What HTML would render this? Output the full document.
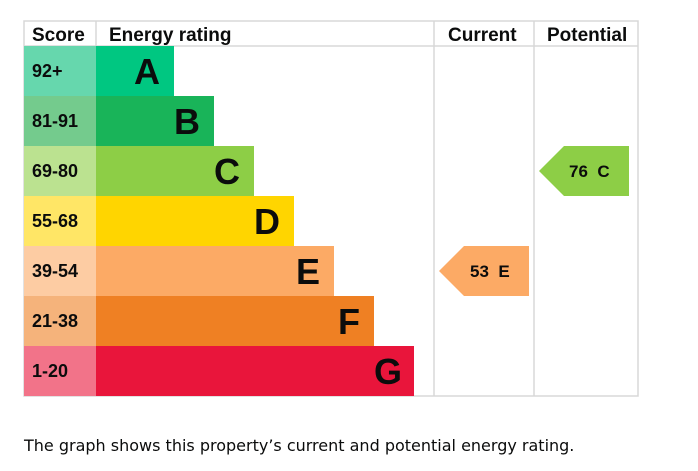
<!DOCTYPE html>
<html><head><meta charset="utf-8"><style>
body{margin:0;background:#fff;width:698px;height:471px;overflow:hidden}
svg{position:absolute;left:0;top:0}
text{font-family:"Liberation Sans",Arial,sans-serif;font-weight:bold;fill:#0b0c0c}
.cap{position:absolute;left:24px;top:436px;font-family:"DejaVu Sans","Liberation Sans",sans-serif;font-size:16px;color:#0b0c0c}
</style></head><body>
<svg width="698" height="471" viewBox="0 0 698 471">
<g stroke="#d8d8d8" stroke-width="1.5" fill="none">
<rect x="24" y="21" width="614" height="375"/>
<line x1="24" y1="46" x2="638" y2="46"/>
<line x1="96" y1="21" x2="96" y2="46"/>
<line x1="434" y1="21" x2="434" y2="396"/>
<line x1="534" y1="21" x2="534" y2="396"/>
</g>
<text x="32" y="41" font-size="19">Score</text>
<text x="109" y="41" font-size="19">Energy rating</text>
<text x="448" y="41" font-size="19">Current</text>
<text x="547" y="41" font-size="19">Potential</text>
<rect x="24" y="46" width="72" height="50" fill="#66d7ad"/><rect x="96" y="46" width="78" height="50" fill="#00c781"/>
<rect x="24" y="96" width="72" height="50" fill="#74cb8d"/><rect x="96" y="96" width="118" height="50" fill="#19b459"/>
<rect x="24" y="146" width="72" height="50" fill="#bbe290"/><rect x="96" y="146" width="158" height="50" fill="#8dce46"/>
<rect x="24" y="196" width="72" height="50" fill="#ffe666"/><rect x="96" y="196" width="198" height="50" fill="#ffd500"/>
<rect x="24" y="246" width="72" height="50" fill="#fdcca3"/><rect x="96" y="246" width="238" height="50" fill="#fcaa65"/>
<rect x="24" y="296" width="72" height="50" fill="#f5b37b"/><rect x="96" y="296" width="278" height="50" fill="#ef8023"/>
<rect x="24" y="346" width="72" height="50" fill="#f27389"/><rect x="96" y="346" width="318" height="50" fill="#e9153b"/>
<g font-size="18">
<text x="32" y="77">92+</text><text x="32" y="127">81-91</text><text x="32" y="177">69-80</text>
<text x="32" y="227">55-68</text><text x="32" y="277">39-54</text><text x="32" y="327">21-38</text><text x="32" y="377">1-20</text>
</g>
<g font-size="36" text-anchor="end">
<text x="160" y="84">A</text><text x="200" y="134">B</text><text x="240" y="184">C</text>
<text x="280" y="234">D</text><text x="320" y="284">E</text><text x="360" y="334">F</text><text x="402" y="384">G</text>
</g>
<polygon points="539,171 564,146 629,146 629,196 564,196" fill="#8dce46"/>
<text x="569" y="177" font-size="17">76 &#160;C</text>
<polygon points="439,271 464,246 529,246 529,296 464,296" fill="#fcaa65"/>
<text x="470" y="277" font-size="17">53 &#160;E</text>
</svg>
<div class="cap">The graph shows this property’s current and potential energy rating.</div>
</body></html>
